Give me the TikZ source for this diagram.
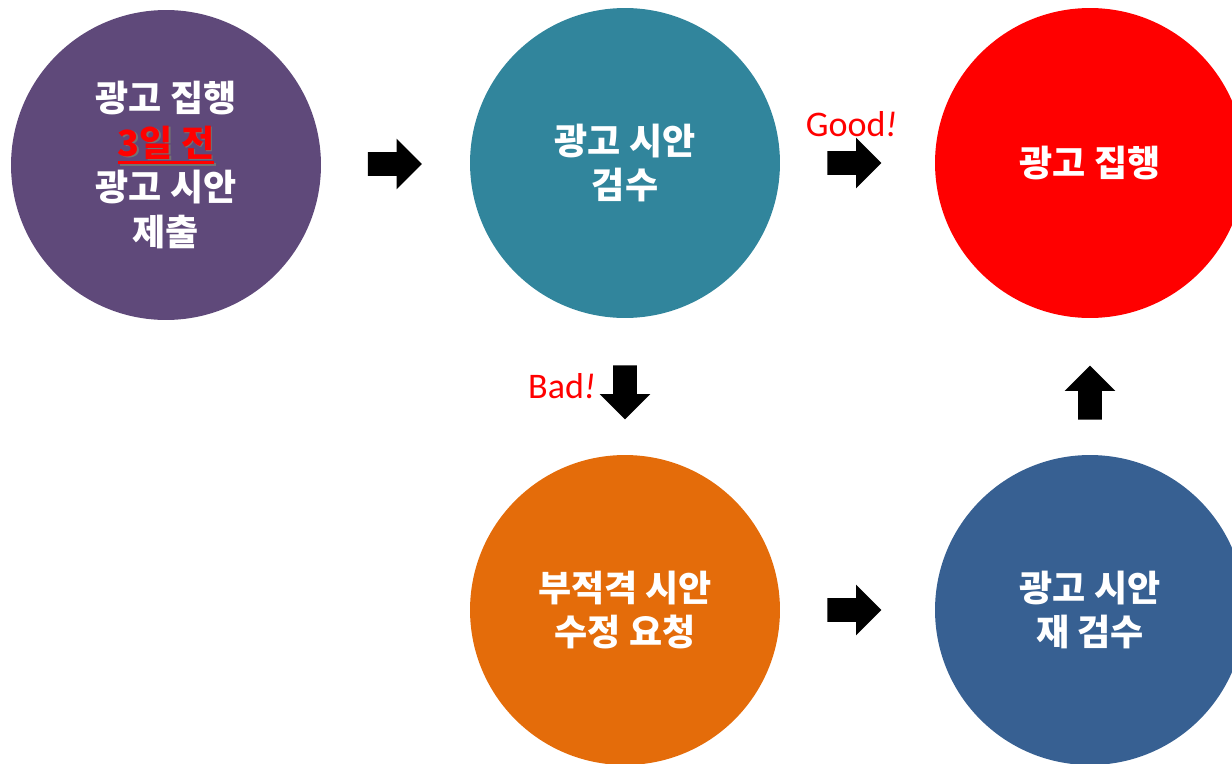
\documentclass[tikz,border=0pt]{standalone}
\usepackage{fontspec}
\newfontfamily\krfont{Noto Sans CJK KR}
\newfontfamily\latfont{Carlito}
\usepackage{xcolor}
\usetikzlibrary{shapes.arrows}
\usetikzlibrary{positioning}
\usetikzlibrary{calc}
\definecolor{submitcol}{HTML}{5F497A}
\definecolor{reviewcol}{HTML}{31859C}
\definecolor{fixcol}{HTML}{E46C0A}
\definecolor{rereviewcol}{HTML}{376092}
% red underlined text with a small dark shadow
\newcommand{\ulred}[2]{\setbox0\hbox{#2}\rlap{\rule[-4.5pt]{\wd0}{1.6pt}}\box0}
\newcommand{\due}[1]{%
  \rlap{\raisebox{-1pt}{\hspace{1pt}\textcolor{black!55}{\ulred{}{#1}}}}%
  \textcolor{red}{\ulred{}{#1}}}

\begin{document}
\begin{tikzpicture}[
  x=0.02cm, y=-0.02cm,
  stage/.style={circle, minimum size=6.2cm, inner sep=0pt, text=white, align=center,
    font=\krfont\bfseries\fontsize{20.5}{25.5}\selectfont},
  blockarrow/.style={single arrow, fill=black, draw=none, minimum height=1.08cm,
    minimum width=1cm, inner sep=0.23cm, single arrow head extend=0.27cm},
  verdict/.style={text=red, inner sep=0pt, font=\latfont\fontsize{20.5}{24}\selectfont},
]
\clip (0,0) rectangle (1232,764);
\useasboundingbox (0,0) rectangle (1232,764);

% circles
\node [stage, fill=submitcol] (submit) at (166,165) {광고 집행\\\due{3일 전}\\광고 시안\\제출};
\node [stage, fill=reviewcol] (review) at (625,163) {광고 시안\\검수};
\node [stage, fill=red] (run) at (1090,163) {광고 집행};
\node [stage, fill=fixcol] (fix) at (625,610) {부적격 시안\\수정 요청};
\node [stage, fill=rereviewcol] (rereview) at (1090,610) {광고 시안\\재 검수};

% arrows
\node [blockarrow, xshift=-0.13cm] (a1) at ($(submit)!0.5!(review)$) {};
\node [blockarrow, xshift=-0.18cm] (a2) at ($(review)!0.5!(run)$) {};
\node [blockarrow, shape border rotate=270] (a3) at ($(review)!0.5!(fix)$) {};
\node [blockarrow, xshift=-0.18cm] (a4) at ($(fix)!0.5!(rereview)$) {};
\node [blockarrow, yshift=-0.24cm, shape border rotate=90] (a5) at ($(rereview)!0.5!(run)$) {};

% labels
\node [verdict, above=0.28cm of a2, xshift=0.06cm] (good) {Good\textit{!}};
\node [verdict, left=0.58cm of a3.center] (bad) {Bad\textit{!}};
\end{tikzpicture}
\end{document}
